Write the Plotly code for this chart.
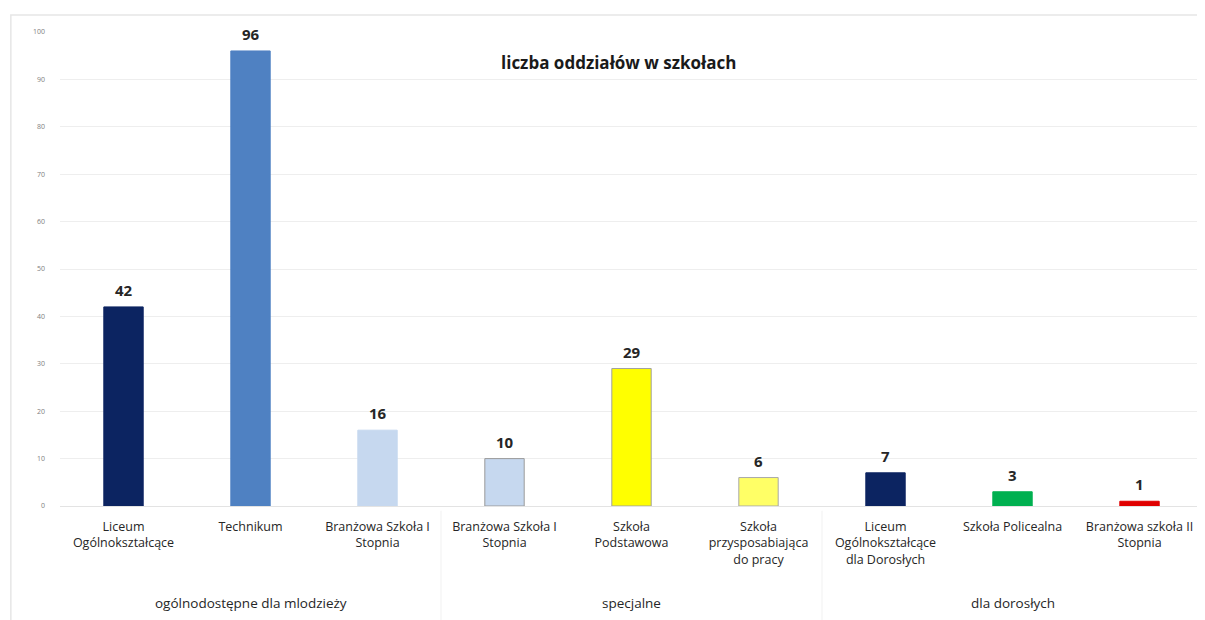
import plotly.graph_objects as go

categories = [
    "Liceum<br>Ogólnokształcące",
    "Technikum",
    "Branżowa Szkoła I<br>Stopnia",
    "Branżowa Szkoła I<br>Stopnia",
    "Szkoła<br>Podstawowa",
    "Szkoła<br>przysposabiająca<br>do pracy",
    "Liceum<br>Ogólnokształcące<br>dla Dorosłych",
    "Szkoła Policealna",
    "Branżowa szkoła II<br>Stopnia",
]
values = [42, 96, 16, 10, 29, 6, 7, 3, 1]
groups = ["ogólnodostępne dla mlodzieży", "specjalne", "dla dorosłych"]
group_sizes = [3, 3, 3]
colors = ["#0c2461", "#4f81c2", "#c6d8ef", "#c6d8ef", "#ffff00",
          "#ffff66", "#0c2461", "#00b050", "#e00000"]
line_colors = ["#0c2461", "#4f81c2", "#c6d8ef", "#9a9a9a", "#a0a0a0",
               "#a8a8a8", "#0c2461", "#00b050", "#e00000"]
y_ticks = list(range(0, 101, 10))
title = "liczba oddziałów w szkołach"

x = list(range(len(values)))

fig = go.Figure()
fig.add_trace(go.Bar(
    x=x, y=values, width=0.31,
    marker=dict(color=colors, line=dict(color=line_colors, width=1)),
    hoverinfo="skip",
))

shapes = []
annotations = []
# data labels above bars
for xi, v in zip(x, values):
    annotations.append(dict(
        x=xi, y=v, xref="x", yref="y", text="<b>%d</b>" % v, showarrow=False,
        font=dict(family="Open Sans", size=15, color="#262626"),
        xanchor="center", yanchor="bottom", yshift=5,
    ))

start = 0
for g, n in zip(groups, group_sizes):
    mid = start + (n - 1) / 2
    annotations.append(dict(
        x=mid, y=-0.205, xref="x", yref="paper", text=g, showarrow=False,
        font=dict(family="Open Sans", size=13.5, color="#262626"),
        xanchor="center", yanchor="middle",
    ))
    if start > 0:
        shapes.append(dict(type="line", xref="x", yref="paper",
                           x0=start - 0.5, x1=start - 0.5, y0=-0.01, y1=-0.25,
                           line=dict(color="#f1f1f1", width=1)))
    start += n

# outer frame
shapes.append(dict(type="rect", xref="paper", yref="paper",
                   x0=-0.043, x1=1.0, y0=-0.26, y1=1.036,
                   line=dict(color="#e6e6e6", width=1.5), layer="below"))

annotations.append(dict(
    x=0.489, y=0.935, xref="paper", yref="paper", text="<b>" + title + "</b>",
    showarrow=False, font=dict(family="Open Sans", size=17, color="#1a1a1a"),
    xanchor="center", yanchor="middle",
))

fig.update_layout(
    width=1197, height=612,
    margin=dict(l=52, r=2, t=24, b=114),
    paper_bgcolor="white", plot_bgcolor="white",
    showlegend=False,
    shapes=shapes, annotations=annotations,
    xaxis=dict(
        tickmode="array", tickvals=x, ticktext=categories,
        range=[-0.5, len(values) - 0.5],
        tickfont=dict(family="Open Sans", size=12.5, color="#262626"),
        showgrid=False, zeroline=False, showline=True,
        linecolor="#e3e3e3", ticks="", ticklabelstandoff=9,
    ),
    yaxis=dict(
        range=[0, 100], tickvals=y_ticks,
        tickfont=dict(family="Open Sans", size=7, color="#808080"),
        showgrid=True, gridcolor="#eeeeee", gridwidth=1,
        zeroline=False, showline=False, ticks="", ticklabelstandoff=14,
    ),
    bargap=0.69,
)

fig.write_html("out.html")
